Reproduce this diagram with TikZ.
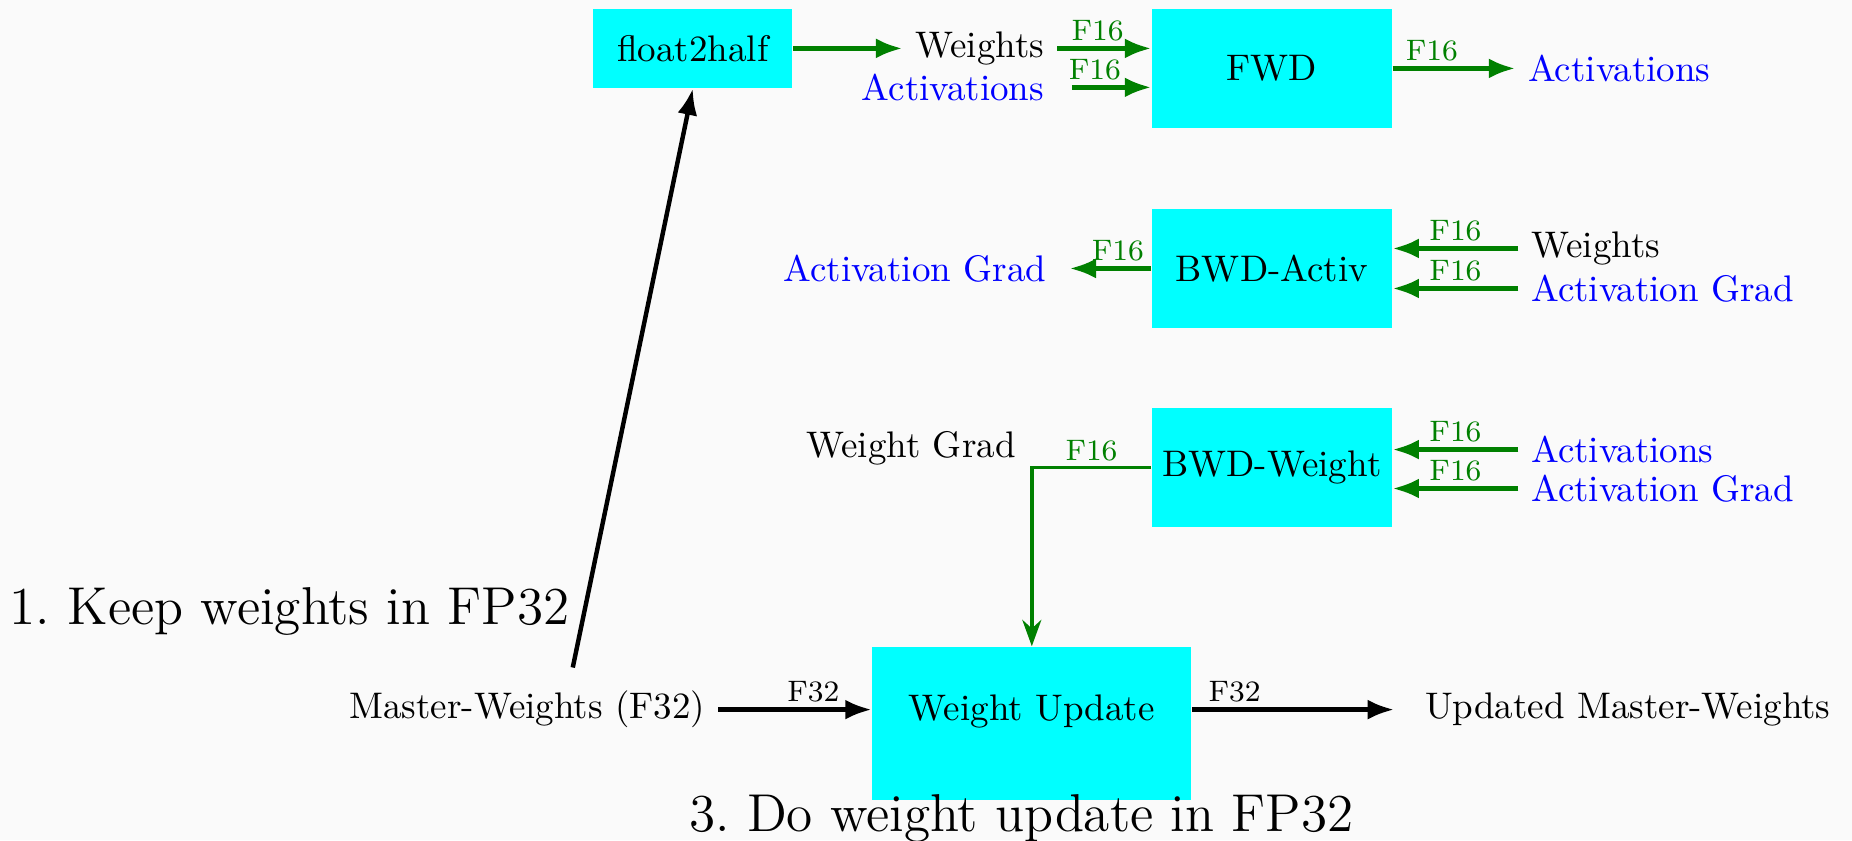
\documentclass[tikz,border=0pt]{standalone}
\usetikzlibrary{arrows.meta}
\definecolor{boxcyan}{RGB}{0,255,255}
\definecolor{halfgreen}{RGB}{0,128,0}
\begin{document}
\begin{tikzpicture}[
    blk/.style={fill=boxcyan, inner sep=0pt, minimum width=2.28cm, minimum height=1.13cm},
    half/.style={draw=halfgreen, line width=1.2pt, -{Latex[length=2.5mm,width=1.9mm]}},
    full/.style={draw=black, line width=1.2pt, -{Latex[length=2.5mm,width=1.9mm]}},
    tag/.style={font=\footnotesize, above, inner sep=1.3pt},
    hf/.style={tag, text=halfgreen},
    act/.style={text=blue}]
            \fill [black!2] (0,0) rectangle (17.59,7.98);
            \useasboundingbox (0,0) rectangle (17.59,7.98);
            \node [blk, minimum width=1.89cm, minimum height=0.75cm] (f2h) at (6.58,7.52) {float2half};
            \node [blk] (fwd) at (12.08,7.33) {FWD};
            \node [blk] (bwda) at (12.08,5.43) {BWD-Activ};
            \node [blk] (bwdw) at (12.08,3.54) {BWD-Weight};
            \node [blk, minimum width=3.03cm, minimum height=1.45cm, text depth=3mm] (wu) at (9.80,1.11) {Weight Update};
            \node [anchor=east] (wt1) at (10.04,7.52) {Weights};
            \node [anchor=east, act] (ac1) at (10.04,7.15) {Activations};
            \node [anchor=west, act] (ac2) at (14.39,7.33) {Activations};
            \node [anchor=west] (wt2) at (14.42,5.62) {Weights};
            \node [anchor=west, act] (ag2) at (14.42,5.24) {Activation Grad};
            \node [anchor=east, act] (ag1) at (10.06,5.43) {Activation Grad};
            \node [anchor=west, act] (ac3) at (14.42,3.71) {Activations};
            \node [anchor=west, act] (ag3) at (14.42,3.34) {Activation Grad};
            \node [anchor=east] (wg) at (9.77,3.72) {Weight Grad};
            \node [anchor=east] (mw) at (6.82,1.24) {Master-Weights (F32)};
            \node [anchor=west] (umw) at (13.41,1.24) {Updated Master-Weights};
            \node [font=\Large] (keep) at (2.75,2.17) {1.\ Keep weights in FP32};
            \node [font=\Large] (upd) at (9.70,0.21) {3.\ Do weight update in FP32};
            \coordinate (kp) at (5.44,1.64);
            \draw [half] (f2h) -- (wt1);
            \draw [half] (wt1.east) -- (wt1.east -| fwd.west) node [hf, pos=0.43] {F16};
            \draw [half] ([xshift=1.4mm]ac1.east) -- (ac1.east -| fwd.west) node [hf, pos=0.29] {F16};
            \draw [half] (fwd) -- (ac2) node [hf, pos=0.32] {F16};
            \draw [half] (wt2.west) -- (wt2.west -| bwda.east) node [hf, midway] {F16};
            \draw [half] (ag2.west) -- (ag2.west -| bwda.east) node [hf, midway] {F16};
            \draw [half] (bwda.west) -- ([xshift=1mm]ag1.east) node [hf, pos=0.41] {F16};
            \draw [half] (ac3.west) -- (ac3.west -| bwdw.east) node [hf, midway] {F16};
            \draw [half] (ag3.west) -- (ag3.west -| bwdw.east) node [hf, midway] {F16};
            \draw [half, line width=1pt, -{Stealth[length=2.5mm,width=1.8mm]}] (bwdw.west) -| (wu.north) node [hf, pos=0.25] {F16};
            \draw [full] (mw.east) -- (mw.east -| wu.west) node [tag, pos=0.62] {F32};
            \draw [full] (wu.east |- umw.west) -- ([xshift=-1.7mm]umw.west) node [tag, pos=0.21] {F32};
            \draw [full] (kp) -- (f2h.south);
\end{tikzpicture}
\end{document}
